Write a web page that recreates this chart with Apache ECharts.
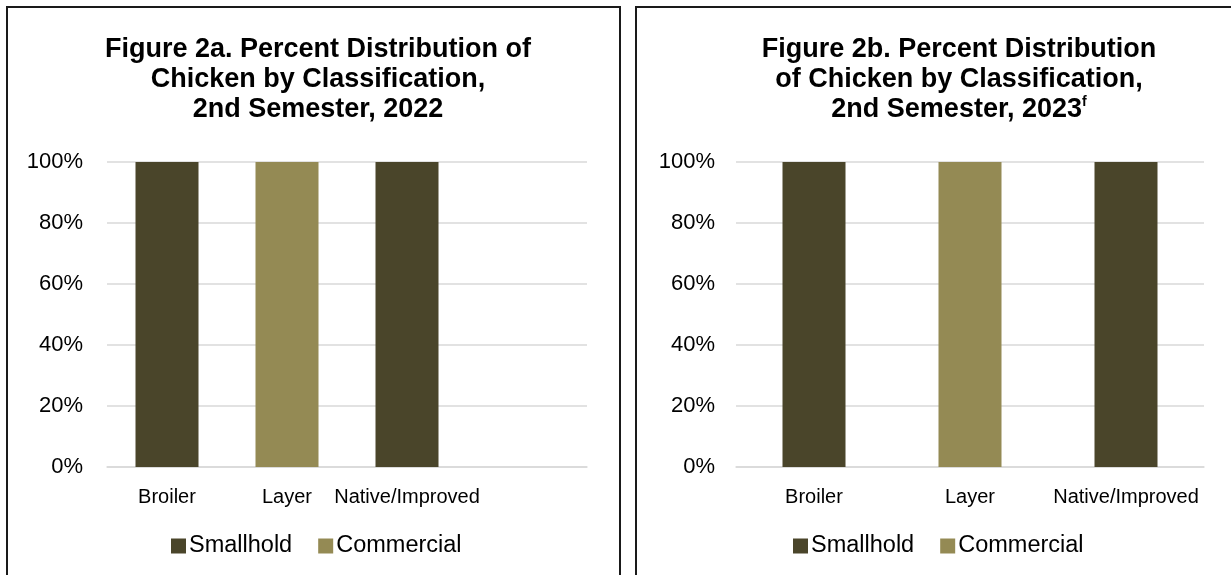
<!DOCTYPE html>
<html lang="en">

<head>
  <meta charset="UTF-8">
  <title>Percent Distribution of Chicken by Classification</title>
  <script src="https://cdn.jsdelivr.net/npm/echarts@6/dist/echarts.min.js"></script>
  <style>
    html, body { margin: 0; padding: 0; background: #fff; overflow: hidden; width: 1231px; height: 575px; }
    .panel { position: absolute; top: 6px; height: 600px; border: 2px solid #1a1a1a; background: #fff; }
    #chart2a { left: 6px; width: 611px; }
    #chart2b { left: 635px; width: 644px; }
  </style>
</head>

<body>
  <div id="chart2a" class="panel"></div>
  <div id="chart2b" class="panel"></div>
</body>

</html>
<script type="text/javascript">
  // data (percent)
  let categories2a = ['Broiler', 'Layer', 'Native/Improved', ''];
  let smallhold2a = [100, 0, 100, null];
  let commercial2a = [0, 100, 0, null];

  let categories2b = ['Broiler', 'Layer', 'Native/Improved'];
  let smallhold2b = [100, 0, 100];
  let commercial2b = [0, 100, 0];

  let seriesNames = ['Smallhold', 'Commercial'];
  let colors = ['#4a452a', '#948a54'];

  let font = 'Arial, "Liberation Sans", sans-serif';

  function makeOption(titleText, titleX, cats, small, comm, grid, legendLeft, yLabelMargin) {
    return {
      animation: false,
      color: colors,
      textStyle: { fontFamily: font },
      title: {
        text: titleText,
        left: titleX,
        top: 27,
        padding: 0,
        textAlign: 'center',
        textStyle: {
          fontFamily: font,
          fontSize: 27,
          fontWeight: 'bold',
          color: '#000',
          lineHeight: 30,
          rich: {
            sup: { fontFamily: font, fontSize: 14, fontWeight: 'bold', color: '#000', verticalAlign: 'top', lineHeight: 30, padding: [0, 0, 11, 0] }
          }
        }
      },
      legend: {
        data: seriesNames,
        left: legendLeft,
        top: 521,
        itemWidth: 15,
        itemHeight: 15,
        itemGap: 26,
        icon: 'rect',
        textStyle: { fontFamily: font, fontSize: 23.5, color: '#000', padding: [0, 0, 0, -2] }
      },
      grid: grid,
      xAxis: {
        type: 'category',
        data: cats,
        axisLine: { lineStyle: { color: '#d9d9d9', width: 1.5 } },
        axisTick: { show: false },
        axisLabel: { fontFamily: font, fontSize: 20, color: '#000', margin: 20, interval: 0 }
      },
      yAxis: {
        type: 'value',
        min: 0,
        max: 100,
        interval: 20,
        axisLine: { show: false },
        axisTick: { show: false },
        splitLine: { lineStyle: { color: '#d9d9d9', width: 1.5 } },
        axisLabel: { fontFamily: font, fontSize: 22, color: '#000', margin: yLabelMargin, formatter: '{value}%' }
      },
      series: [
        { name: seriesNames[0], type: 'bar', stack: 'total', barWidth: 63, data: small },
        { name: seriesNames[1], type: 'bar', stack: 'total', barWidth: 63, data: comm }
      ]
    };
  }

  let chart2a = echarts.init(document.getElementById('chart2a'));
  chart2a.setOption(makeOption(
    'Figure 2a. Percent Distribution of\nChicken by Classification,\n2nd Semester, 2022',
    310, categories2a, smallhold2a, commercial2a,
    { left: 99, right: 32, top: 154, bottom: 141 },
    158, 24
  ));

  let chart2b = echarts.init(document.getElementById('chart2b'));
  chart2b.setOption(makeOption(
    'Figure 2b. Percent Distribution\nof Chicken by Classification,\n2nd Semester, 2023{sup|f}',
    322, categories2b, smallhold2b, commercial2b,
    { left: 99, right: 77, top: 154, bottom: 141 },
    151, 21
  ));
</script>
